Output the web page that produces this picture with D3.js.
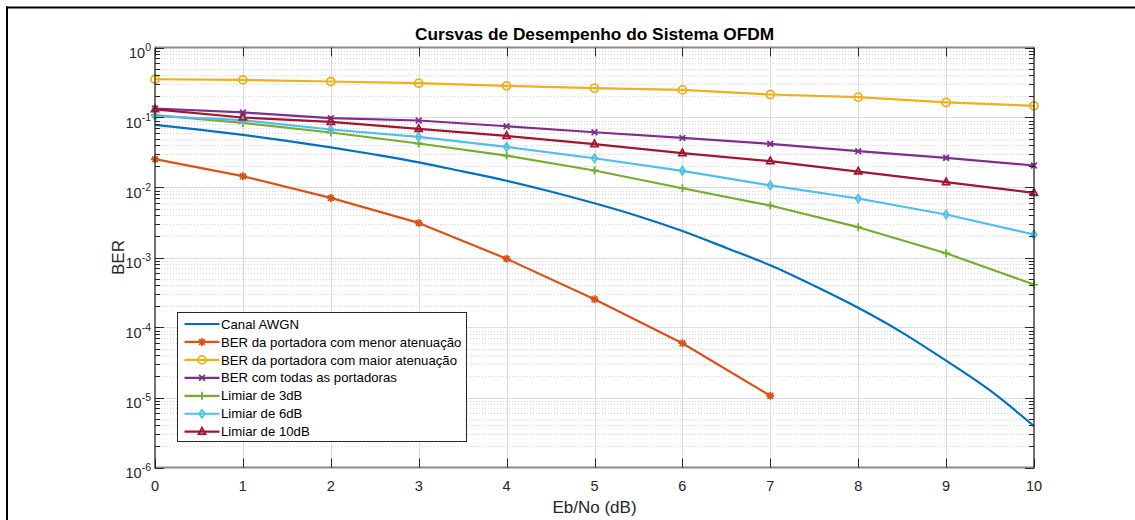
<!DOCTYPE html>
<html>
<head>
<meta charset="utf-8">
<script src="https://cdn.jsdelivr.net/npm/d3@7"></script>
<style>
  body { margin: 0; background: #fff; }
  svg { display: block; font-family: "Liberation Sans", Arial, sans-serif; }
</style>
</head>
<body>
<script>
// Eb/No points for the simulated curves
const ebno = [0, 1, 2, 3, 4, 5, 6, 7, 8, 9, 10];

// theoretical AWGN curve (read at 0.5 dB steps)
const awgnX = [0, 0.5, 1, 1.5, 2, 2.5, 3, 3.5, 4, 4.5, 5, 5.5, 6, 6.5, 7, 7.5, 8, 8.5, 9, 9.5, 10];
const awgnBer = [0.0786, 0.0671, 0.0563, 0.0464, 0.0375, 0.0296, 0.0229, 0.0170, 0.0125, 0.00877,
  0.00595, 0.00389, 0.00239, 0.00137, 0.000773, 0.000394, 0.000191, 0.0000846, 0.0000336, 0.0000126, 0.0000039];

const berMenor = [0.0254, 0.0145, 0.0071, 0.00312, 0.00096, 0.000254, 0.0000597, 0.0000106];
const berMaior = [0.352, 0.345, 0.327, 0.309, 0.283, 0.262, 0.248, 0.213, 0.195, 0.164, 0.147];
const berTodas = [0.1345, 0.118, 0.0977, 0.0906, 0.075, 0.0616, 0.0511, 0.042, 0.033, 0.0265, 0.0206];
const limiar3 = [0.108, 0.0837, 0.061, 0.0425, 0.0286, 0.0175, 0.00977, 0.00553, 0.00271, 0.00115, 0.000411];
const limiar6 = [0.105, 0.0915, 0.0674, 0.0528, 0.038, 0.0262, 0.0173, 0.0107, 0.00697, 0.00411, 0.00213];
const limiar10 = [0.131, 0.1, 0.0865, 0.0688, 0.0546, 0.0416, 0.0309, 0.0238, 0.0169, 0.0119, 0.00838];

const seriesNames = [
  "Canal AWGN",
  "BER da portadora com menor atenuação",
  "BER da portadora com maior atenuação",
  "BER com todas as portadoras",
  "Limiar de 3dB",
  "Limiar de 6dB",
  "Limiar de 10dB"
];
const xTicks = [0, 1, 2, 3, 4, 5, 6, 7, 8, 9, 10];
const yExponents = [0, -1, -2, -3, -4, -5, -6];

const colors = ["#0072BD", "#D95319", "#EDB120", "#7E2F8E", "#77AC30", "#4DBEEE", "#A2142F"];
const markers = [null, "asterisk", "circle", "x", "plus", "diamond", "triangle"];

const series = [
  { x: awgnX, y: awgnBer },
  { x: ebno.slice(0, berMenor.length), y: berMenor },
  { x: ebno, y: berMaior },
  { x: ebno, y: berTodas },
  { x: ebno, y: limiar3 },
  { x: ebno, y: limiar6 },
  { x: ebno, y: limiar10 }
].map((s, i) => ({
  name: seriesNames[i], color: colors[i], marker: markers[i],
  points: s.x.map((v, j) => ({ x: v, y: s.y[j] }))
}));

const W = 1135, H = 520;
const pLeft = 155, pRight = 1034, pTop = 47.5, pBottom = 467.5;

const svg = d3.select("body").append("svg")
  .attr("width", W).attr("height", H);

// figure frame (only top and left edges visible)
svg.append("line").attr("x1", 6).attr("x2", W).attr("y1", 7.5).attr("y2", 7.5)
  .attr("stroke", "#000").attr("stroke-width", 2);
svg.append("line").attr("x1", 7).attr("x2", 7).attr("y1", 6.5).attr("y2", H)
  .attr("stroke", "#000").attr("stroke-width", 2);

const x = d3.scaleLinear().domain([0, 10]).range([pLeft, pRight]);
const y = d3.scaleLog().domain([1e-6, 1]).range([pBottom, pTop]);

// minor grid (dotted)
const minorVals = [];
for (let e = -6; e < 0; e++) {
  for (let m = 2; m <= 9; m++) minorVals.push(m * Math.pow(10, e));
}
svg.append("g").selectAll("line").data(minorVals).enter().append("line")
  .attr("x1", pLeft).attr("x2", pRight)
  .attr("y1", d => Math.round(y(d)) + 0.5).attr("y2", d => Math.round(y(d)) + 0.5)
  .attr("stroke", "#d6d6d6").attr("stroke-dasharray", "1,2");

// major grid
svg.append("g").selectAll("line").data(xTicks.slice(1, -1)).enter().append("line")
  .attr("x1", d => Math.round(x(d)) + 0.5).attr("x2", d => Math.round(x(d)) + 0.5)
  .attr("y1", pTop).attr("y2", pBottom)
  .attr("stroke", "#dcdcdc").attr("stroke-width", 1);
svg.append("g").selectAll("line").data(yExponents.slice(1, -1)).enter().append("line")
  .attr("x1", pLeft).attr("x2", pRight)
  .attr("y1", d => Math.round(y(Math.pow(10, d))) + 0.5).attr("y2", d => Math.round(y(Math.pow(10, d))) + 0.5)
  .attr("stroke", "#dcdcdc").attr("stroke-width", 1);

// curves
const line = d3.line().x(d => x(d.x)).y(d => y(d.y));
const plot = svg.append("g");
series.forEach((s, i) => {
  plot.append("path")
    .attr("d", line.curve(i === 0 ? d3.curveMonotoneX : d3.curveLinear)(s.points))
    .attr("fill", "none").attr("stroke", s.color).attr("stroke-width", 2.2)
    .attr("stroke-linejoin", "round");
});

function markerPath(type, r) {
  const p = d3.path();
  const d = r * 0.72;
  if (type === "asterisk") {
    p.moveTo(-r, 0); p.lineTo(r, 0);
    p.moveTo(0, -r); p.lineTo(0, r);
    p.moveTo(-d, -d); p.lineTo(d, d);
    p.moveTo(-d, d); p.lineTo(d, -d);
  } else if (type === "circle") {
    p.arc(0, 0, r, 0, 2 * Math.PI);
  } else if (type === "x") {
    p.moveTo(-d, -d); p.lineTo(d, d);
    p.moveTo(-d, d); p.lineTo(d, -d);
  } else if (type === "plus") {
    p.moveTo(-r, 0); p.lineTo(r, 0);
    p.moveTo(0, -r); p.lineTo(0, r);
  } else if (type === "diamond") {
    p.moveTo(0, -r); p.lineTo(r * 0.7, 0); p.lineTo(0, r); p.lineTo(-r * 0.7, 0); p.closePath();
  } else if (type === "triangle") {
    p.moveTo(0, -r); p.lineTo(r * 0.87, r * 0.6); p.lineTo(-r * 0.87, r * 0.6); p.closePath();
  }
  return p.toString();
}

series.forEach(s => {
  if (!s.marker) return;
  plot.append("g").selectAll("path").data(s.points).enter().append("path")
    .attr("transform", d => `translate(${x(d.x)},${y(d.y)})`)
    .attr("d", markerPath(s.marker, 4))
    .attr("fill", "none").attr("stroke", s.color).attr("stroke-width", 1.8);
});

// axes box
svg.append("line").attr("x1", pLeft).attr("x2", pRight).attr("y1", pTop).attr("y2", pTop)
  .attr("stroke", "#8c8c8c").attr("stroke-width", 2);
svg.append("line").attr("x1", pLeft).attr("x2", pRight).attr("y1", pBottom).attr("y2", pBottom)
  .attr("stroke", "#8c8c8c").attr("stroke-width", 2);
svg.append("line").attr("x1", pLeft).attr("x2", pLeft).attr("y1", pTop).attr("y2", pBottom + 1)
  .attr("stroke", "#262626").attr("stroke-width", 1.3);
svg.append("line").attr("x1", pRight).attr("x2", pRight).attr("y1", pTop).attr("y2", pBottom + 1)
  .attr("stroke", "#262626").attr("stroke-width", 1.3);

// ticks
const tickG = svg.append("g").attr("stroke", "#262626").attr("stroke-width", 1);
xTicks.forEach(t => {
  const xx = Math.round(x(t)) + 0.5;
  tickG.append("line").attr("x1", xx).attr("x2", xx).attr("y1", pBottom).attr("y2", pBottom - 9);
  tickG.append("line").attr("x1", xx).attr("x2", xx).attr("y1", pTop).attr("y2", pTop + 9);
});
yExponents.forEach(e => {
  const yy = Math.round(y(Math.pow(10, e))) + 0.5;
  tickG.append("line").attr("x1", pLeft).attr("x2", pLeft + 9).attr("y1", yy).attr("y2", yy);
  tickG.append("line").attr("x1", pRight).attr("x2", pRight - 9).attr("y1", yy).attr("y2", yy);
});
minorVals.forEach(v => {
  const yy = Math.round(y(v)) + 0.5;
  tickG.append("line").attr("x1", pLeft).attr("x2", pLeft + 5).attr("y1", yy).attr("y2", yy);
  tickG.append("line").attr("x1", pRight).attr("x2", pRight - 5).attr("y1", yy).attr("y2", yy);
});

// tick labels
svg.append("g").selectAll("text").data(xTicks).enter().append("text")
  .attr("x", d => x(d)).attr("y", 490.5)
  .attr("text-anchor", "middle").attr("font-size", 14.5).attr("fill", "#262626")
  .text(d => d);

const yl = svg.append("g").selectAll("text").data(yExponents).enter().append("text")
  .attr("x", 151).attr("y", d => y(Math.pow(10, d)) + 10)
  .attr("text-anchor", "end").attr("font-size", 14.5).attr("fill", "#262626");
yl.append("tspan").text("10");
yl.append("tspan").attr("dy", -7).attr("font-size", 10.5).text(d => d === 0 ? "0" : "-" + Math.abs(d));

// axis titles
svg.append("text").attr("x", (pLeft + pRight) / 2).attr("y", 512.5)
  .attr("text-anchor", "middle").attr("font-size", 17).attr("fill", "#262626")
  .text("Eb/No (dB)");
svg.append("text").attr("transform", "rotate(-90)")
  .attr("x", -(pTop + pBottom) / 2).attr("y", 124)
  .attr("text-anchor", "middle").attr("font-size", 17).attr("fill", "#262626")
  .text("BER");
svg.append("text").attr("x", (pLeft + pRight) / 2).attr("y", 40)
  .attr("text-anchor", "middle").attr("font-size", 17.3).attr("font-weight", "bold").attr("fill", "#000")
  .text("Cursvas de Desempenho do Sistema OFDM");

// legend
const legend = svg.append("g").attr("transform", "translate(177.5,312.5)");
legend.append("rect").attr("width", 289).attr("height", 129)
  .attr("fill", "#fff").attr("stroke", "#262626").attr("stroke-width", 1);
series.forEach((s, i) => {
  const ly = 11.5 + i * 17.95;
  legend.append("line").attr("x1", 7).attr("x2", 42).attr("y1", ly).attr("y2", ly)
    .attr("stroke", s.color).attr("stroke-width", 2.2);
  if (s.marker) {
    legend.append("path").attr("transform", `translate(24.5,${ly})`)
      .attr("d", markerPath(s.marker, 4))
      .attr("fill", "none").attr("stroke", s.color).attr("stroke-width", 1.8);
  }
  legend.append("text").attr("x", 43.5).attr("y", ly + 4.6)
    .attr("font-size", 13.2).attr("fill", "#000").text(s.name);
});
</script>
</body>
</html>
